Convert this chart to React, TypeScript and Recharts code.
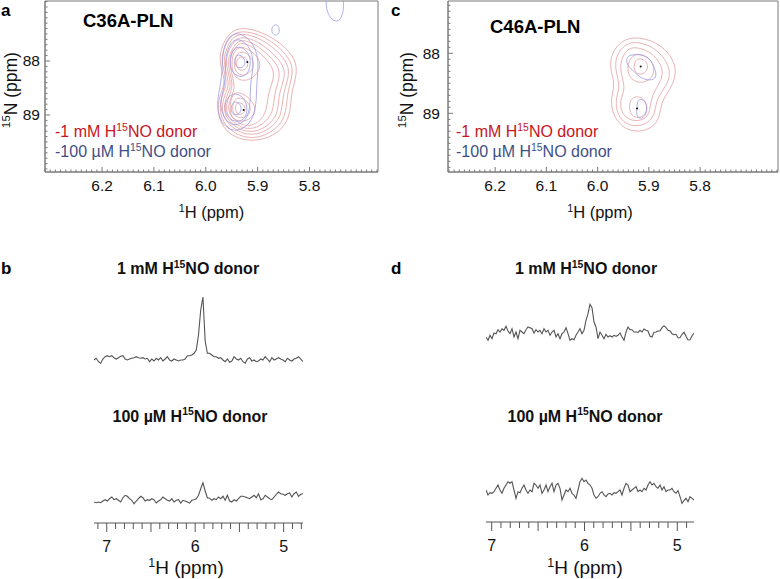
import React from 'react';
import { LineChart, Line, XAxis, YAxis, ReferenceArea } from 'recharts';

const FONT = '"Liberation Sans", Arial, Helvetica, sans-serif';
const RED_LINE = '#e39a9a';
const BLUE_LINE = '#9496e6';
const RED_TEXT = '#c8141c';
const BLUE_TEXT = '#3e4f86';
const FRAME = '#7a7a7a';
const SPEC = '#555555';

// ---------- 1D spectra (intensity read at a uniform ppm grid) ----------
const B_PPM_START = 7.144;
const B_PPM_STEP = 0.025137;
const D_PPM_START = 7.0613;
const D_PPM_STEP = 0.021552;
const B_DOMAIN = [4.781, 7.144];
const D_DOMAIN = [4.82, 7.0613];
const SPEC_TICK_LABELS = [7, 6, 5];

const B_TOP = [5.0, 6.7, 3.3, 1.7, 6.0, 8.3, 9.3, 8.3, 9.3, 7.3, 6.0, 7.3, 8.7, 9.3, 6.0, 5.0, 6.0, 6.7, 7.3, 8.3,
  7.3, 6.7, 7.3, 6.0, 6.7, 3.3, 6.0, 4.0, 6.7, 5.0, 7.3, 4.0, 6.0, 8.3, 5.0, 4.0, 6.0, 5.0, 4.0, 5.0,
  5.0, 6.0, 9.3, 9.3, 10.0, 11.7, 15.0, 30, 55, 68, 24, 11.7, 11.7, 10.0, 8.3, 8.3, 6.7, 7.3, 5.0, 3.3,
  6.0, 2.7, 4.0, 8.3, 6.0, 5.0, 6.7, 3.3, 1.7, 6.0, 7.3, 4.0, 5.0, 3.3, 4.0, 6.0, 5.0, 8.3, 6.0, 3.3,
  7.3, 5.0, 6.0, 7.3, 6.0, 5.0, 3.3, 6.7, 5.0, 4.0, 6.0, 6.7, 8.3, 6.0, 3.3];
const B_BOT = [5, 4.3, 5, 4.3, 6, 7.3, 6, 8.3, 10, 7.3, 8.3, 6.7, 5, 9.3, 11.7, 10.7, 8.3, 6.7, 3.3, 6,
  8.3, 10.7, 9.3, 6, 7.3, 6.7, 8.3, 7.3, 4, 6, 7.3, 10, 8.3, 6.7, 6, 8.3, 5, 6.7, 7.3, 4,
  6.7, 6, 5, 4, 6.7, 7.3, 8.3, 11.7, 18.3, 24.3, 16, 9.3, 8.7, 6.7, 8.3, 7.3, 10, 8.3, 10.7, 6.7,
  11.7, 6, 5, 7.3, 6, 8.3, 10.7, 10.7, 10, 9.3, 8.3, 10, 11.7, 9.3, 13.3, 7.3, 8.3, 11.7, 10, 8.3,
  7.3, 10, 12.7, 15, 13.3, 12.7, 11.7, 13.3, 14, 10, 13.3, 15, 10.7, 12.7, 13.3];
const D_TOP = [10, 6.7, 11.7, 8.3, 14, 13.3, 17.3, 15, 18.3, 16.7, 20.7, 16, 13.3, 18.3, 10, 15, 8.3, 16.7, 15, 13.3,
  17.3, 20, 19.3, 18.3, 14, 17.3, 15, 16.7, 13.3, 18.3, 15, 16.7, 11.7, 15, 16.7, 10, 13.3, 8.3, 13.3, 15,
  19.3, 13.3, 6.7, 8.3, 7.3, 11.7, 15, 18.3, 13.3, 16.7, 26.7, 33.3, 42.7, 39.3, 25, 20, 8.3, 15, 11.7, 8.3,
  12.7, 10, 11.3, 10, 11.7, 10.7, 11.7, 14, 10, 6.7, 15, 20, 17.3, 17.3, 15, 15, 14.7, 16.7, 15, 18,
  16.7, 16, 10.7, 10, 14.7, 15, 16, 16, 19.3, 21.3, 19.3, 16.7, 16, 13.3, 12.3, 12.7, 9.3, 9.3, 12.7, 14.7,
  10.7, 7, 7.3, 11.3, 14];
const D_BOT = [20, 15, 17.3, 16.7, 18.3, 21.7, 25, 20, 16.7, 21.7, 25, 28.3, 26.7, 28.3, 20, 11.7, 18.3, 17.3, 21.7, 25,
  20, 16.7, 20, 18.3, 26.7, 25, 21.7, 25, 16.7, 20, 25, 18.3, 23.3, 26.7, 18.3, 25, 26.7, 21.7, 10, 15,
  20, 18.3, 21.7, 16.7, 15, 11.7, 20, 28.3, 31.7, 28.3, 30, 26.7, 25, 21.7, 15, 11.7, 13.3, 16.7, 18.3, 15,
  13.3, 16, 16.7, 15, 17.3, 16.7, 18.3, 20, 15, 21.7, 26.7, 25, 18.3, 20, 21.7, 23.3, 18.3, 20, 18.3, 21.7,
  20, 25, 28.3, 25, 26.7, 23.3, 21.7, 25, 20, 23.3, 18.3, 20, 20, 21.7, 18.3, 16.7, 19.3, 13.3, 6.7, 9.3,
  11.7, 8.3, 13.3, 11.7, 10];

// ---------- 2D contour lines, [1H ppm, 15N ppm] ----------
const A_RED = [
  [[5.931, 87.37], [5.891, 87.46], [5.852, 87.69], [5.825, 87.98], [5.825, 88.28], [5.834, 88.54], [5.836, 88.8], [5.84, 89.06], [5.856, 89.3], [5.887, 89.46], [5.921, 89.48], [5.95, 89.39], [5.972, 89.17], [5.978, 88.87], [5.972, 88.61], [5.962, 88.39], [5.97, 88.17], [5.974, 87.91], [5.966, 87.65], [5.952, 87.46]],
  [[5.931, 87.43], [5.892, 87.52], [5.858, 87.74], [5.833, 88.02], [5.833, 88.3], [5.842, 88.56], [5.844, 88.8], [5.848, 89.04], [5.862, 89.24], [5.891, 89.41], [5.921, 89.43], [5.947, 89.33], [5.968, 89.13], [5.974, 88.87], [5.968, 88.61], [5.958, 88.41], [5.966, 88.17], [5.97, 87.93], [5.962, 87.69], [5.95, 87.52]],
  [[5.931, 87.48], [5.896, 87.57], [5.863, 87.8], [5.84, 88.06], [5.84, 88.31], [5.85, 88.57], [5.852, 88.8], [5.856, 89.02], [5.869, 89.2], [5.894, 89.35], [5.921, 89.37], [5.943, 89.28], [5.964, 89.09], [5.97, 88.87], [5.964, 88.63], [5.954, 88.43], [5.962, 88.19], [5.966, 87.94], [5.958, 87.72], [5.949, 87.57]],
  [[5.931, 87.54], [5.9, 87.63], [5.871, 87.85], [5.848, 88.09], [5.848, 88.33], [5.858, 88.57], [5.86, 88.8], [5.863, 89.0], [5.877, 89.17], [5.898, 89.3], [5.921, 89.31], [5.941, 89.24], [5.96, 89.07], [5.966, 88.87], [5.96, 88.65], [5.95, 88.44], [5.958, 88.2], [5.962, 87.96], [5.954, 87.76], [5.945, 87.63]],
  [[5.931, 87.59], [5.904, 87.69], [5.879, 87.89], [5.858, 88.11], [5.858, 88.35], [5.867, 88.57], [5.869, 88.8], [5.873, 88.98], [5.885, 89.13], [5.902, 89.24], [5.921, 89.26], [5.939, 89.2], [5.956, 89.06], [5.962, 88.87], [5.956, 88.67], [5.947, 88.46], [5.954, 88.22], [5.958, 87.98], [5.95, 87.8], [5.943, 87.69]],
  [[5.931, 87.65], [5.908, 87.74], [5.887, 87.93], [5.869, 88.13], [5.869, 88.35], [5.879, 88.57], [5.881, 88.78], [5.885, 88.96], [5.894, 89.09], [5.908, 89.19], [5.923, 89.2], [5.937, 89.15], [5.952, 89.02], [5.958, 88.87], [5.952, 88.69], [5.943, 88.5], [5.95, 88.24], [5.954, 88.02], [5.949, 87.83], [5.941, 87.72]],
  [[5.933, 87.72], [5.914, 87.8], [5.898, 87.94], [5.894, 88.11], [5.904, 88.28], [5.921, 88.37], [5.939, 88.35], [5.949, 88.2], [5.95, 88.02], [5.947, 87.83]],
  [[5.937, 88.57], [5.92, 88.65], [5.906, 88.8], [5.904, 88.96], [5.916, 89.09], [5.933, 89.13], [5.949, 89.07], [5.954, 88.93], [5.952, 88.72], [5.947, 88.61]],
  [[5.933, 87.81], [5.918, 87.87], [5.908, 88.0], [5.908, 88.13], [5.918, 88.24], [5.931, 88.28], [5.943, 88.2], [5.945, 88.06], [5.943, 87.91]],
  [[5.937, 88.67], [5.923, 88.72], [5.914, 88.83], [5.914, 88.96], [5.923, 89.04], [5.937, 89.06], [5.947, 88.98], [5.949, 88.85], [5.945, 88.72]],
  [[5.933, 87.91], [5.921, 87.94], [5.918, 88.04], [5.921, 88.15], [5.933, 88.19], [5.941, 88.11], [5.941, 87.98]],
  [[5.937, 88.76], [5.927, 88.8], [5.923, 88.89], [5.927, 88.98], [5.937, 89.0], [5.943, 88.93], [5.943, 88.81]],
];
const A_BLUE = [
  [[5.941, 87.46], [5.918, 87.57], [5.902, 87.8], [5.898, 88.09], [5.902, 88.39], [5.902, 88.69], [5.906, 88.98], [5.918, 89.2], [5.941, 89.31], [5.962, 89.24], [5.976, 89.02], [5.978, 88.72], [5.972, 88.46], [5.968, 88.17], [5.968, 87.83], [5.958, 87.57]],
  [[5.941, 87.57], [5.921, 87.67], [5.91, 87.87], [5.908, 88.13], [5.914, 88.39], [5.914, 88.65], [5.916, 88.94], [5.925, 89.13], [5.943, 89.2], [5.96, 89.13], [5.97, 88.94], [5.972, 88.72], [5.964, 88.5], [5.962, 88.2], [5.962, 87.91], [5.954, 87.69]],
  [[5.937, 87.72], [5.921, 87.8], [5.914, 87.94], [5.914, 88.13], [5.923, 88.28], [5.939, 88.3], [5.952, 88.17], [5.954, 87.98], [5.949, 87.8]],
  [[5.943, 88.59], [5.927, 88.67], [5.92, 88.83], [5.921, 89.02], [5.933, 89.13], [5.95, 89.11], [5.962, 88.98], [5.964, 88.8], [5.956, 88.65]],
  [[5.937, 87.87], [5.927, 87.93], [5.923, 88.04], [5.929, 88.13], [5.939, 88.13], [5.945, 88.04], [5.943, 87.93]],
  [[5.943, 88.74], [5.933, 88.8], [5.931, 88.91], [5.937, 89.0], [5.947, 89.0], [5.952, 88.91], [5.95, 88.8]],
  [[5.865, 87.31], [5.858, 87.37], [5.858, 87.48], [5.865, 87.54], [5.873, 87.48], [5.873, 87.37]],
  [[5.767, 86.78], [5.769, 86.98], [5.763, 87.17], [5.751, 87.28], [5.74, 87.24], [5.734, 87.06], [5.734, 86.81], [5.751, 86.65]],
];
const A_PEAKS = [[5.92, 88.02], [5.927, 88.91]];

const C_RED = [
  [[5.923, 87.73], [5.888, 87.8], [5.862, 87.98], [5.847, 88.21], [5.849, 88.45], [5.864, 88.66], [5.876, 88.83], [5.878, 89.03], [5.888, 89.2], [5.909, 89.3], [5.937, 89.3], [5.958, 89.18], [5.972, 88.98], [5.974, 88.73], [5.966, 88.53], [5.974, 88.31], [5.976, 88.08], [5.962, 87.86], [5.944, 87.76]],
  [[5.923, 87.81], [5.894, 87.88], [5.872, 88.05], [5.859, 88.25], [5.86, 88.45], [5.874, 88.63], [5.886, 88.8], [5.888, 89.0], [5.898, 89.13], [5.915, 89.21], [5.937, 89.21], [5.954, 89.11], [5.964, 88.95], [5.964, 88.73], [5.956, 88.55], [5.964, 88.33], [5.966, 88.11], [5.956, 87.93], [5.94, 87.83]],
  [[5.923, 87.9], [5.9, 87.96], [5.882, 88.11], [5.872, 88.28], [5.876, 88.46], [5.888, 88.61], [5.896, 88.78], [5.898, 88.96], [5.905, 89.08], [5.921, 89.13], [5.937, 89.11], [5.95, 89.03], [5.956, 88.9], [5.954, 88.73], [5.946, 88.58], [5.954, 88.36], [5.956, 88.16], [5.948, 88.0], [5.937, 87.91]],
  [[5.921, 88.0], [5.901, 88.06], [5.89, 88.2], [5.89, 88.35], [5.901, 88.46], [5.919, 88.5], [5.935, 88.43], [5.942, 88.3], [5.94, 88.15], [5.933, 88.05]],
  [[5.923, 88.71], [5.909, 88.76], [5.903, 88.88], [5.905, 89.01], [5.917, 89.08], [5.931, 89.06], [5.938, 88.96], [5.938, 88.83], [5.933, 88.75]],
  [[5.917, 88.08], [5.905, 88.13], [5.901, 88.23], [5.907, 88.33], [5.919, 88.36], [5.929, 88.3], [5.929, 88.18], [5.925, 88.11]],
];
const C_BLUE = [
  [[5.94, 88.03], [5.917, 88.01], [5.898, 88.08], [5.888, 88.25], [5.884, 88.41], [5.898, 88.46], [5.917, 88.41], [5.929, 88.3], [5.942, 88.21], [5.944, 88.1]],
  [[5.917, 88.75], [5.907, 88.8], [5.903, 88.91], [5.907, 89.05], [5.917, 89.1], [5.925, 89.03], [5.923, 88.91], [5.923, 88.81]],
];
const C_PEAKS = [[5.916, 88.22], [5.923, 88.92]];

const H_LABELS = [6.2, 6.1, 6.0, 5.9, 5.8];
const N_LABELS = [88, 89];

const rangeTicks = (lo: number, hi: number, div: number) => {
  const out: number[] = [];
  for (let i = lo; i <= hi; i++) out.push(i / div);
  return out;
};
const near = (a: number, b: number) => Math.abs(a - b) < 1e-6;
const toPts = (arr: number[][]) => arr.map(([h, n]) => ({ h, n }));
const spectrum = (vals: number[], start: number, step: number) =>
  vals.map((v, i) => ({ ppm: +(start - i * step).toFixed(4), v }));

// ---------- 2D panel ----------
function Panel2D(props: any) {
  const { left, width, yAxisWidth, marginRight, xDomain, yDomain, xTicks, yTicks, red, blue, peaks, yLabelGap } = props;
  const isLabH = (v: number) => H_LABELS.some((l) => near(l, v));
  const isLabN = (v: number) => N_LABELS.some((l) => near(l, v));
  const bottomTick = (p: any) => {
    const v = p.payload.value;
    const lab = isLabH(v);
    return (
      <g>
        <line x1={p.x} y1={p.y} x2={p.x} y2={p.y - (lab ? 5 : 2.5)} stroke={FRAME} strokeWidth={1} />
        {lab && (
          <text x={p.x} y={p.y + 19} textAnchor="middle" fontSize={15.5} fontFamily={FONT} fill="#111">
            {v.toFixed(1)}
          </text>
        )}
      </g>
    );
  };
  const topTick = (p: any) => {
    const v = p.payload.value;
    const lab = isLabH(v);
    return <line x1={p.x} y1={p.y} x2={p.x} y2={p.y + (lab ? 5 : 2.5)} stroke={FRAME} strokeWidth={1} />;
  };
  const leftTick = (p: any) => {
    const v = p.payload.value;
    const lab = isLabN(v);
    return (
      <g>
        <line x1={p.x} y1={p.y} x2={p.x + (lab ? 5 : 2.5)} y2={p.y} stroke={FRAME} strokeWidth={1} />
        {lab && (
          <text x={p.x - yLabelGap} y={p.y + 5.5} textAnchor="end" fontSize={15.5} fontFamily={FONT} fill="#111">
            {String(v)}
          </text>
        )}
      </g>
    );
  };
  const rightTick = (p: any) => {
    const v = p.payload.value;
    const lab = isLabN(v);
    return <line x1={p.x} y1={p.y} x2={p.x - (lab ? 5 : 2.5)} y2={p.y} stroke={FRAME} strokeWidth={1} />;
  };
  const common = { type: 'number' as const, allowDataOverflow: true, interval: 0 as const, tickLine: false, tickSize: 0, tickMargin: 0, axisLine: { stroke: FRAME, strokeWidth: 1 } };
  return (
    <div style={{ position: 'absolute', left, top: 0 }}>
      <LineChart width={width} height={220} margin={{ top: 1, right: marginRight, bottom: 0, left: 0 }}>
        <XAxis xAxisId="b" dataKey="h" domain={xDomain} reversed ticks={xTicks} height={48} tick={bottomTick} {...common} />
        <XAxis xAxisId="t" orientation="top" dataKey="h" domain={xDomain} reversed ticks={xTicks} height={0} tick={topTick} {...common} />
        <YAxis yAxisId="l" dataKey="n" domain={yDomain} reversed ticks={yTicks} width={yAxisWidth} tick={leftTick} {...common} />
        <YAxis yAxisId="r" orientation="right" dataKey="n" domain={yDomain} reversed ticks={yTicks} width={0} tick={rightTick} {...common} />
        <ReferenceArea xAxisId="b" yAxisId="l" x1={xDomain[0]} x2={xDomain[1]} y1={yDomain[0]} y2={yDomain[1]}
          fill="#ffffff" fillOpacity={0} stroke={FRAME} strokeWidth={1} strokeOpacity={1} ifOverflow="visible" />
        {red.map((c: number[][], i: number) => (
          <Line key={'r' + i} xAxisId="b" yAxisId="l" data={toPts(c)} dataKey="n" type="basisClosed" stroke={RED_LINE} strokeWidth={0.75} dot={false} activeDot={false} isAnimationActive={false} />
        ))}
        {blue.map((c: number[][], i: number) => (
          <Line key={'b' + i} xAxisId="b" yAxisId="l" data={toPts(c)} dataKey="n" type="basisClosed" stroke={BLUE_LINE} strokeWidth={0.75} dot={false} activeDot={false} isAnimationActive={false} />
        ))}
        <Line xAxisId="b" yAxisId="l" data={toPts(peaks)} dataKey="n" stroke="none" dot={{ r: 1, fill: '#111', stroke: 'none' }} activeDot={false} isAnimationActive={false} />
      </LineChart>
    </div>
  );
}

// ---------- 1D spectrum ----------
function Spectrum(props: any) {
  const { left, top, width, plotH, yDomain, data, axis, xDomain, xTicks } = props;
  const tick = (p: any) => {
    const v = p.payload.value;
    const major = near(v * 2, Math.round(v * 2));
    const lab = SPEC_TICK_LABELS.some((l) => near(l, v));
    return (
      <g>
        <line x1={p.x} y1={p.y} x2={p.x} y2={p.y + (major ? 9 : 6)} stroke={SPEC} strokeWidth={1} />
        {lab && (
          <text x={p.x} y={p.y + 29} textAnchor="middle" fontSize={16} fontFamily={FONT} fill="#111">
            {String(v)}
          </text>
        )}
      </g>
    );
  };
  return (
    <div style={{ position: 'absolute', left, top }}>
      <LineChart width={width} height={plotH + (axis ? 50 : 0)} margin={{ top: 0, right: 0, bottom: 0, left: 0 }}>
        <XAxis dataKey="ppm" type="number" domain={xDomain} reversed allowDataOverflow hide={!axis} ticks={xTicks} interval={0}
          tickLine={false} tickSize={0} tickMargin={0} height={50} tick={tick} axisLine={{ stroke: SPEC, strokeWidth: 1 }} />
        <YAxis type="number" domain={yDomain} allowDataOverflow hide />
        <Line data={data} dataKey="v" type="linear" stroke={SPEC} strokeWidth={1.1} dot={false} activeDot={false} isAnimationActive={false} />
      </LineChart>
    </div>
  );
}

const Sup = ({ pre, sup, post, size }: any) => (
  <>
    <tspan>{pre}</tspan>
    <tspan dy={-size * 0.38} fontSize={size * 0.65}>{sup}</tspan>
    <tspan dy={size * 0.38}>{post}</tspan>
  </>
);

export default function App() {
  const bTicks = rangeTicks(48, 71, 10);
  const dTicks = rangeTicks(49, 70, 10);
  return (
    <div style={{ position: 'absolute', left: 0, top: 0, width: 780, height: 579, background: '#fff', fontFamily: FONT }}>
      <Panel2D left={0} width={390} yAxisWidth={45} marginRight={12} xDomain={[5.668, 6.31]} yDomain={[86.889, 90.056]}
        xTicks={rangeTicks(567, 631, 100)} yTicks={rangeTicks(869, 900, 10)} red={A_RED} blue={A_BLUE} peaks={A_PEAKS} yLabelGap={5} />
      <Panel2D left={390} width={390} yAxisWidth={58} marginRight={2} xDomain={[5.648, 6.292]} yDomain={[87.128, 89.978]}
        xTicks={rangeTicks(565, 629, 100)} yTicks={rangeTicks(872, 899, 10)} red={C_RED} blue={C_BLUE} peaks={C_PEAKS} yLabelGap={8} />

      <Spectrum left={94} top={290} width={209} plotH={75} yDomain={[0, 75]} xDomain={B_DOMAIN} data={spectrum(B_TOP, B_PPM_START, B_PPM_STEP)} />
      <Spectrum left={94} top={470} width={209} plotH={53} yDomain={[-16, 37]} xDomain={B_DOMAIN} axis xTicks={bTicks} data={spectrum(B_BOT, B_PPM_START, B_PPM_STEP)} />
      <Spectrum left={486} top={295} width={208} plotH={52} yDomain={[0, 52]} xDomain={D_DOMAIN} data={spectrum(D_TOP, D_PPM_START, D_PPM_STEP)} />
      <Spectrum left={486} top={470} width={208} plotH={52} yDomain={[-12, 40]} xDomain={D_DOMAIN} axis xTicks={dTicks} data={spectrum(D_BOT, D_PPM_START, D_PPM_STEP)} />

      <svg width={780} height={579} style={{ position: 'absolute', left: 0, top: 0, pointerEvents: 'none' }} fontFamily={FONT}>
        <g fontWeight="bold" fontSize={17} fill="#000">
          <text x={1} y={16}>a</text>
          <text x={391} y={16}>c</text>
          <text x={1} y={273.5}>b</text>
          <text x={391} y={273.5}>d</text>
        </g>
        <text x={83} y={26.7} fontWeight="bold" fontSize={18.5} fill="#000">C36A-PLN</text>
        <text x={490} y={33.3} fontWeight="bold" fontSize={18.5} fill="#000">C46A-PLN</text>

        <text x={55} y={137} fontSize={16} fill={RED_TEXT}><Sup pre="-1 mM H" sup="15" post="NO donor" size={16} /></text>
        <text x={55} y={156.7} fontSize={16} fill={BLUE_TEXT}><Sup pre="-100 µM H" sup="15" post="NO donor" size={16} /></text>
        <text x={456} y={137.3} fontSize={16} fill={RED_TEXT}><Sup pre="-1 mM H" sup="15" post="NO donor" size={16} /></text>
        <text x={456} y={157} fontSize={16} fill={BLUE_TEXT}><Sup pre="-100 µM H" sup="15" post="NO donor" size={16} /></text>

        <text x={211.5} y={218} textAnchor="middle" fontSize={16.5} fill="#111"><Sup pre="" sup="1" post="H (ppm)" size={16.5} /></text>
        <text x={600} y={218} textAnchor="middle" fontSize={16.5} fill="#111"><Sup pre="" sup="1" post="H (ppm)" size={16.5} /></text>
        <text transform="translate(17,90) rotate(-90)" textAnchor="middle" fontSize={17.5} fill="#111"><Sup pre="" sup="15" post="N (ppm)" size={17.5} /></text>
        <text transform="translate(413,90) rotate(-90)" textAnchor="middle" fontSize={17.5} fill="#111"><Sup pre="" sup="15" post="N (ppm)" size={17.5} /></text>

        <g fontWeight="bold" fontSize={16} fill="#111" textAnchor="middle">
          <text x={188} y={274}><Sup pre="1 mM H" sup="15" post="NO donor" size={16} /></text>
          <text x={190} y={421.5}><Sup pre="100 µM H" sup="15" post="NO donor" size={16} /></text>
          <text x={586} y={274}><Sup pre="1 mM H" sup="15" post="NO donor" size={16} /></text>
          <text x={585} y={421.5}><Sup pre="100 µM H" sup="15" post="NO donor" size={16} /></text>
        </g>

        <text x={186} y={574} textAnchor="middle" fontSize={19} fill="#111"><Sup pre="" sup="1" post="H (ppm)" size={19} /></text>
        <text x={585} y={574} textAnchor="middle" fontSize={19} fill="#111"><Sup pre="" sup="1" post="H (ppm)" size={19} /></text>
      </svg>
    </div>
  );
}
